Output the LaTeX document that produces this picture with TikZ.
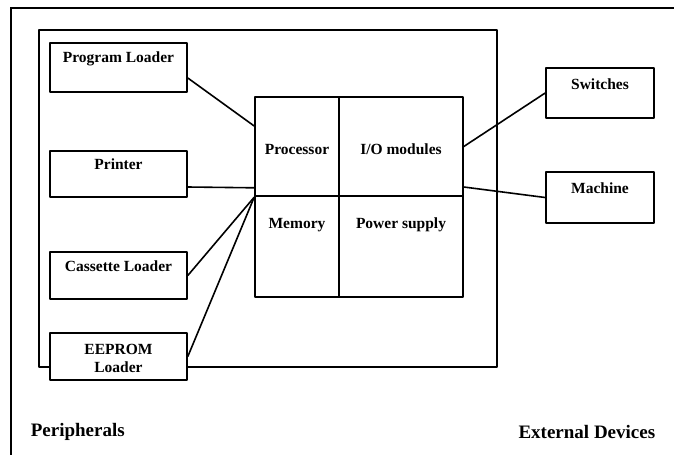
\documentclass[tikz,border=0pt]{standalone}
\usepackage{fontspec}
\setmainfont{Liberation Serif}
\usetikzlibrary{calc}
\begin{document}
\begin{tikzpicture}[x=1pt,y=-1pt,
  line width=1.6pt,
  box/.style={draw, fill=white, rectangle, inner sep=0pt, line join=round},
  lbl/.style={font=\bfseries\fontsize{15.5}{18}\selectfont, inner sep=0pt},
  big/.style={font=\bfseries\fontsize{19}{22}\selectfont, inner sep=0pt},
  conn/.style={line width=1.6pt}]
\useasboundingbox (0,0) rectangle (674,455);
% outer frame (only top and left visible)
\coordinate (ftl) at (11,8);
\coordinate (ftr) at (674,8);
\coordinate (fbl) at (11,455);
\draw (ftr) -- (ftl) -- (fbl);
% inner system box
\node[box, fill=none, minimum width=458pt, minimum height=337pt] (sys) at (268,198.5) {};
% processor block cells
\node[box, minimum width=84pt, minimum height=99pt] (proc) at (297,146.5) {};
\node[lbl] at ($(proc.center)+(0,3)$) {Processor};
\node[box, minimum width=124pt, minimum height=99pt] (io) at (401,146.5) {};
\node[lbl] at ($(io.center)+(0,3)$) {I/O modules};
\node[box, minimum width=84pt, minimum height=101pt] (mem) at (297,246.5) {};
\node[lbl] at ($(mem.north)+(0,30)$) {Memory};
\node[box, minimum width=124pt, minimum height=101pt] (pow) at (401,246.5) {};
\node[lbl] at ($(pow.north)+(0,30)$) {Power supply};
% peripherals
\node[box, minimum width=137pt, minimum height=49pt] (pl) at (118.5,67.5) {};
\node[lbl] at ($(pl.north)+(0,17)$) {Program Loader};
\node[box, minimum width=137pt, minimum height=46pt] (pr) at (118.5,174) {};
\node[lbl] at ($(pr.north)+(0,14)$) {Printer};
\node[box, minimum width=137pt, minimum height=47pt] (cl) at (118.5,275.5) {};
\node[lbl] at ($(cl.north)+(0,15)$) {Cassette Loader};
\node[box, minimum width=137pt, minimum height=47pt] (ee) at (118.5,356.5) {};
\node[lbl, align=center] at ($(ee.center)+(0,2)$) {EEPROM\\Loader};
% external devices
\node[box, minimum width=108pt, minimum height=50pt] (sw) at (600,93) {};
\node[lbl] at ($(sw.north)+(0,17)$) {Switches};
\node[box, minimum width=108pt, minimum height=51pt] (ma) at (600,197.5) {};
\node[lbl] at ($(ma.north)+(0,17)$) {Machine};
% connectors
\draw[conn] ($(pl.east)+(0,10.5)$) -- ($(proc.west)+(0,-20.5)$);
\draw[conn] ($(pr.east)+(0,13)$) -- ($(proc.south west)+(0,-9)$);
\draw[conn] (cl.east) -- ($(mem.north west)+(0,2)$);
\draw[conn] (ee.east) -- ($(mem.north west)+(0,2)$);
\draw[conn] (io.east) -- (sw.west);
\draw[conn] ($(io.east)+(0,40.5)$) -- (ma.west);
% captions
\node[big, anchor=west] (perl) at (30,432) {Peripherals};
\node[big, anchor=east] (extl) at (656,432) {External Devices};
\end{tikzpicture}
\end{document}
